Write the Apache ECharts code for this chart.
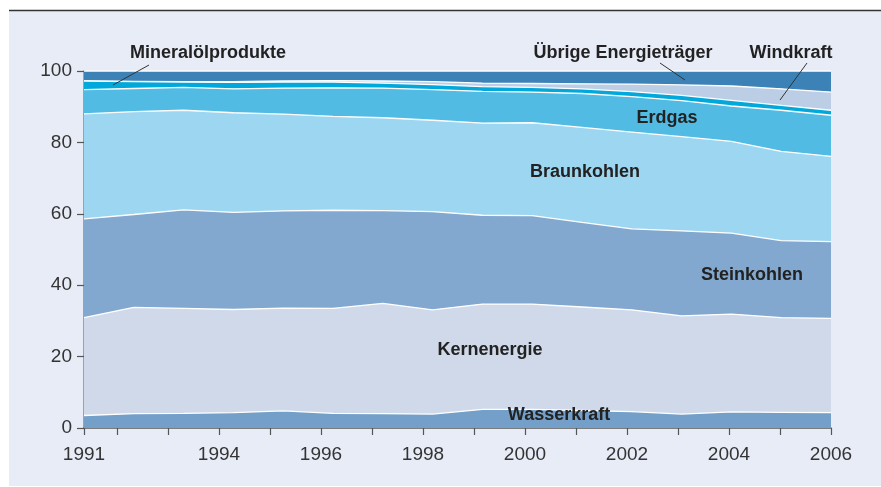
<!DOCTYPE html>
<html>
<head>
<meta charset="utf-8">
<script src="https://cdn.jsdelivr.net/npm/echarts@6/dist/echarts.min.js"></script>
<style>
html,body{margin:0;padding:0;background:#fff;}
#chart{width:881px;height:487px;}
</style>
</head>
<body>
<div id="chart"></div>
<script>
const years = ['1991','1992','1993','1994','1995','1996','1997','1998','1999','2000','2001','2002','2003','2004','2005','2006'];
const tickYears = [1991,1992,1993,1994,1995,1996,1997,1998,1999,2000,2001,2002,2003,2004,2005,2006];
const labelYears = [1991,1994,1996,1998,2000,2002,2004,2006];
const yTicks = [0,20,40,60,80,100];

const wasserkraft  = [3.5,4.0,4.1,4.3,4.8,4.1,4.0,3.9,5.2,5.2,4.9,4.6,3.9,4.5,4.4,4.3];
const kernenergie  = [27.4,29.8,29.4,28.9,28.8,29.4,30.9,29.2,29.5,29.5,29.0,28.5,27.5,27.4,26.5,26.4];
const steinkohlen  = [27.7,26.0,27.6,27.2,27.2,27.5,26.0,27.5,24.9,24.8,23.7,22.7,23.8,22.7,21.6,21.5];
const braunkohlen  = [29.4,28.8,27.9,27.9,27.1,26.3,26.0,25.6,25.8,26.0,26.6,27.1,26.4,25.7,25.0,23.9];
const erdgas       = [6.8,6.5,6.4,6.7,7.3,8.0,8.3,8.6,8.9,8.6,9.5,9.9,10.1,9.9,11.5,11.5];
const mineraloel   = [2.4,1.9,1.5,1.8,1.7,1.6,1.4,1.4,1.3,1.3,1.3,1.4,1.5,1.6,1.4,1.4];
const windkraft    = [0.0,0.1,0.1,0.2,0.3,0.4,0.6,0.8,1.0,1.1,1.4,2.1,2.9,4.0,4.6,5.1];
const uebrige      = [2.8,2.9,3.0,3.0,2.8,2.7,2.8,3.0,3.4,3.5,3.6,3.7,3.9,4.2,5.0,5.9];

const seriesDefs = [
  {name:'Wasserkraft', data:wasserkraft, color:'#739fc9'},
  {name:'Kernenergie', data:kernenergie, color:'#cfd9ea'},
  {name:'Steinkohlen', data:steinkohlen, color:'#82a8cf'},
  {name:'Braunkohlen', data:braunkohlen, color:'#9dd6f0'},
  {name:'Erdgas', data:erdgas, color:'#52bbe3'},
  {name:'Mineralölprodukte', data:mineraloel, color:'#00a8dc'},
  {name:'Windkraft', data:windkraft, color:'#bccde6'},
  {name:'Übrige Energieträger', data:uebrige, color:'#3c82b7'}
];

// visual tick axis: first tick sits at the axis start, the rest every year
const tickAxisMin = 1991.353;
const mapTick = y => (y === 1991 ? tickAxisMin : y);

const chart = echarts.init(document.getElementById('chart'), null, {renderer:'canvas'});
const labelFont = {fontSize:18, fontWeight:'bold', fontFamily:'Liberation Sans', fill:'#222', align:'center', verticalAlign:'middle'};
function txt(text, x, y){ return {type:'text', z:100, style:Object.assign({text:text, x:x, y:y}, labelFont)}; }
function ptr(x1,y1,x2,y2){ return {type:'line', z:100, shape:{x1:x1,y1:y1,x2:x2,y2:y2}, style:{stroke:'#333', lineWidth:1}}; }

chart.setOption({
  animation:false,
  backgroundColor:'#ffffff',
  textStyle:{fontFamily:'Liberation Sans'},
  grid:{left:84, right:50, top:71, bottom:59, containLabel:false},
  xAxis:[
    {type:'category', data:years, boundaryGap:false, show:false},
    {type:'value', min:tickAxisMin, max:2006, position:'bottom',
     axisLine:{show:true, lineStyle:{color:'#555', width:1.5}},
     axisTick:{show:true, length:7, lineStyle:{color:'#555', width:1.2}, customValues:tickYears.map(mapTick)},
     axisLabel:{show:true, fontSize:19, color:'#333', margin:17, customValues:labelYears.map(mapTick),
       formatter:v => String(Math.round(v))},
     splitLine:{show:false}}
  ],
  yAxis:{type:'value', min:0, max:100, interval:20,
    axisLine:{show:true, lineStyle:{color:'#888', width:1.5}},
    axisTick:{show:true, length:7, lineStyle:{color:'#555', width:1.2}},
    axisLabel:{fontSize:19, color:'#333', margin:12, customValues:yTicks},
    splitLine:{show:false}},
  series: seriesDefs.map((s,i) => ({
    name:s.name, type:'line', stack:'total', data:s.data, xAxisIndex:0,
    symbol:'none', smooth:false, z: 20 - i,
    lineStyle:{color:'#ffffff', width:1.3},
    areaStyle:{color:s.color, opacity:1},
    itemStyle:{color:s.color}
  })),
  graphic:[
    {type:'rect', z:-10, shape:{x:9, y:11, width:872, height:475}, style:{fill:'#e8ecf7'}},
    {type:'line', z:-5, shape:{x1:9, y1:10.5, x2:881, y2:10.5}, style:{stroke:'#333', lineWidth:1.5}},
    txt('Mineralölprodukte', 208, 53),
    txt('Übrige Energieträger', 623, 53),
    txt('Windkraft', 791, 53),
    txt('Erdgas', 667, 118),
    txt('Braunkohlen', 585, 172),
    txt('Steinkohlen', 752, 275),
    txt('Kernenergie', 490, 350),
    txt('Wasserkraft', 559, 415),
    ptr(149,65,113,85),
    ptr(660,63,685,80),
    ptr(807,63,780,100)
  ]
});
</script>
</body>
</html>
